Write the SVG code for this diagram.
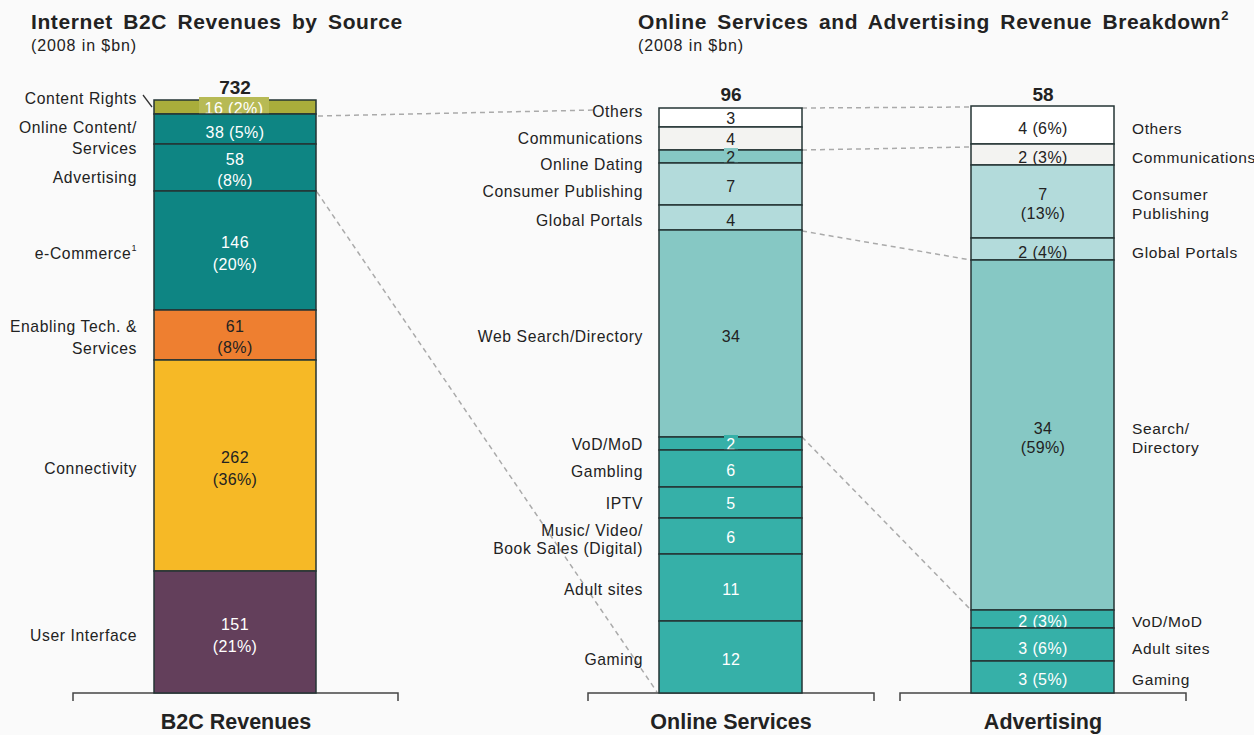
<svg xmlns="http://www.w3.org/2000/svg" width="1254" height="735" viewBox="0 0 1254 735">
<style>
text{font-family:"Liberation Sans",Arial,sans-serif;fill:#222;dominant-baseline:central}
.t{font-size:21px;font-weight:bold;letter-spacing:0.6px;word-spacing:4px}
.s{font-size:16px;letter-spacing:0.9px}
.l{font-size:15.7px;letter-spacing:0.6px;text-anchor:end}
.r{font-size:15.5px;letter-spacing:0.6px;text-anchor:start}
.v{font-size:16px;letter-spacing:0.4px;text-anchor:middle}
.w{fill:#fff}
.tot{font-size:19px;font-weight:bold;text-anchor:middle}
.ax{font-size:21.5px;font-weight:bold;text-anchor:middle}
.seg{stroke:#253535;stroke-width:1.5}
.axis{fill:none;stroke:#444;stroke-width:1.5}
.dash{fill:none;stroke:#aaa;stroke-width:1.5;stroke-dasharray:5 4}
</style>
<rect x="0" y="0" width="1254" height="735" fill="#fafafa"/>

<g id="titles">
<text class="t" x="31" y="21">Internet B2C Revenues by Source</text>
<text class="s" x="31" y="45">(2008 in $bn)</text>
<text class="t" x="638" y="21">Online Services and Advertising Revenue Breakdown<tspan font-size="13" dy="-6">2</tspan></text>
<text class="s" x="638" y="45">(2008 in $bn)</text>
</g>

<g id="connectors">
<line class="dash" x1="318" y1="116" x2="596" y2="110"/>
<line class="dash" x1="317" y1="192" x2="657" y2="692"/>
<line class="dash" x1="802" y1="108" x2="971" y2="107"/>
<line class="dash" x1="802" y1="150" x2="971" y2="147"/>
<line class="dash" x1="802" y1="231" x2="971" y2="260"/>
<line class="dash" x1="802" y1="437" x2="971" y2="610"/>
<line x1="143" y1="95" x2="152" y2="107" stroke="#333" stroke-width="1.3"/>
</g>

<g id="axes">
<path class="axis" d="M73,701 V693 H398 V701"/>
<path class="axis" d="M588,701 V693 H874 V701"/>
<path class="axis" d="M900,701 V693 H1186 V701"/>
<text class="ax" x="236" y="722">B2C Revenues</text>
<text class="ax" x="731" y="722">Online Services</text>
<text class="ax" x="1043" y="722">Advertising</text>
</g>

<g id="bar-b2c">
<text class="tot" x="235" y="87">732</text>
<g id="b2c-content-rights">
<rect class="seg" x="154" y="100" width="162" height="14" fill="#a9ad3b"/>
<rect x="199" y="97" width="70" height="21" fill="#b7ba55"/>
<text class="v w" x="234" y="108">16 (2%)</text>
<text class="l" x="137" y="98">Content Rights</text>
</g>
<g id="b2c-online-content">
<rect class="seg" x="154" y="114" width="162" height="30" fill="#0e8583"/>
<text class="v w" x="235" y="132">38 (5%)</text>
<text class="l" x="137" y="127">Online Content/</text>
<text class="l" x="137" y="148">Services</text>
</g>
<g id="b2c-advertising">
<rect class="seg" x="154" y="144" width="162" height="47" fill="#0e8583"/>
<text class="v w" x="235" y="159">58</text>
<text class="v w" x="235" y="180">(8%)</text>
<text class="l" x="137" y="177">Advertising</text>
</g>
<g id="b2c-ecommerce">
<rect class="seg" x="154" y="191" width="162" height="119" fill="#0e8583"/>
<text class="v w" x="235" y="242">146</text>
<text class="v w" x="235" y="264">(20%)</text>
<text class="l" x="137" y="253">e-Commerce<tspan font-size="9" dy="-5">1</tspan></text>
</g>
<g id="b2c-enabling">
<rect class="seg" x="154" y="310" width="162" height="50" fill="#ee7f30"/>
<text class="v" x="235" y="326">61</text>
<text class="v" x="235" y="347">(8%)</text>
<text class="l" x="137" y="326">Enabling Tech. &amp;</text>
<text class="l" x="137" y="348">Services</text>
</g>
<g id="b2c-connectivity">
<rect class="seg" x="154" y="360" width="162" height="211" fill="#f6b926"/>
<text class="v" x="235" y="457">262</text>
<text class="v" x="235" y="479">(36%)</text>
<text class="l" x="137" y="468">Connectivity</text>
</g>
<g id="b2c-user-interface">
<rect class="seg" x="154" y="571" width="162" height="122" fill="#633f5b"/>
<text class="v w" x="235" y="624">151</text>
<text class="v w" x="235" y="646">(21%)</text>
<text class="l" x="137" y="635">User Interface</text>
</g>
</g>

<g id="bar-online">
<text class="tot" x="731" y="94">96</text>
<g id="os-others">
<rect class="seg" x="659" y="108" width="143" height="19" fill="#ffffff"/>
<text class="v" x="731" y="118">3</text>
<text class="l" x="643" y="111">Others</text>
</g>
<g id="os-communications">
<rect class="seg" x="659" y="127" width="143" height="23" fill="#f3f3f1"/>
<text class="v" x="731" y="139">4</text>
<text class="l" x="643" y="138">Communications</text>
</g>
<g id="os-dating">
<rect class="seg" x="659" y="150" width="143" height="13" fill="#86c8c4"/>
<rect x="724" y="148" width="14" height="18" fill="#86c8c4"/>
<text class="v" x="731" y="157">2</text>
<text class="l" x="643" y="164">Online Dating</text>
</g>
<g id="os-publishing">
<rect class="seg" x="659" y="163" width="143" height="42" fill="#b3dbdb"/>
<text class="v" x="731" y="186">7</text>
<text class="l" x="643" y="191">Consumer Publishing</text>
</g>
<g id="os-portals">
<rect class="seg" x="659" y="205" width="143" height="25" fill="#b3dbdb"/>
<text class="v" x="731" y="220">4</text>
<text class="l" x="643" y="220">Global Portals</text>
</g>
<g id="os-search">
<rect class="seg" x="659" y="230" width="143" height="207" fill="#86c8c4"/>
<text class="v" x="731" y="336">34</text>
<text class="l" x="643" y="336">Web Search/Directory</text>
</g>
<g id="os-vod">
<rect class="seg" x="659" y="437" width="143" height="13" fill="#36b0a8"/>
<rect x="724" y="435" width="14" height="18" fill="#36b0a8"/>
<text class="v w" x="731" y="444">2</text>
<text class="l" x="643" y="444">VoD/MoD</text>
</g>
<g id="os-gambling">
<rect class="seg" x="659" y="450" width="143" height="37" fill="#36b0a8"/>
<text class="v w" x="731" y="470">6</text>
<text class="l" x="643" y="471">Gambling</text>
</g>
<g id="os-iptv">
<rect class="seg" x="659" y="487" width="143" height="31" fill="#36b0a8"/>
<text class="v w" x="731" y="503">5</text>
<text class="l" x="643" y="503">IPTV</text>
</g>
<g id="os-music">
<rect class="seg" x="659" y="518" width="143" height="36" fill="#36b0a8"/>
<text class="v w" x="731" y="537">6</text>
<text class="l" x="643" y="530">Music/ Video/</text>
<text class="l" x="643" y="548">Book Sales (Digital)</text>
</g>
<g id="os-adult">
<rect class="seg" x="659" y="554" width="143" height="67" fill="#36b0a8"/>
<text class="v w" x="731" y="589">11</text>
<text class="l" x="643" y="589">Adult sites</text>
</g>
<g id="os-gaming">
<rect class="seg" x="659" y="621" width="143" height="72" fill="#36b0a8"/>
<text class="v w" x="731" y="659">12</text>
<text class="l" x="643" y="659">Gaming</text>
</g>
</g>

<g id="bar-advertising">
<text class="tot" x="1043" y="94">58</text>
<g id="ad-others">
<rect class="seg" x="971" y="106" width="143" height="38" fill="#ffffff"/>
<text class="v" x="1043" y="128">4 (6%)</text>
<text class="r" x="1132" y="128">Others</text>
</g>
<g id="ad-communications">
<rect class="seg" x="971" y="144" width="143" height="21" fill="#f3f3f1"/>
<text class="v" x="1043" y="157">2 (3%)</text>
<text class="r" x="1132" y="157">Communications</text>
</g>
<g id="ad-publishing">
<rect class="seg" x="971" y="165" width="143" height="73" fill="#b3dbdb"/>
<text class="v" x="1043" y="194">7</text>
<text class="v" x="1043" y="213">(13%)</text>
<text class="r" x="1132" y="194">Consumer</text>
<text class="r" x="1132" y="213">Publishing</text>
</g>
<g id="ad-portals">
<rect class="seg" x="971" y="238" width="143" height="22" fill="#b3dbdb"/>
<text class="v" x="1043" y="252">2 (4%)</text>
<text class="r" x="1132" y="252">Global Portals</text>
</g>
<g id="ad-search">
<rect class="seg" x="971" y="260" width="143" height="350" fill="#86c8c4"/>
<text class="v" x="1043" y="428">34</text>
<text class="v" x="1043" y="447">(59%)</text>
<text class="r" x="1132" y="428">Search/</text>
<text class="r" x="1132" y="447">Directory</text>
</g>
<g id="ad-vod">
<rect class="seg" x="971" y="610" width="143" height="18" fill="#36b0a8"/>
<text class="v w" x="1043" y="621">2 (3%)</text>
<text class="r" x="1132" y="621">VoD/MoD</text>
</g>
<g id="ad-adult">
<rect class="seg" x="971" y="628" width="143" height="33" fill="#36b0a8"/>
<text class="v w" x="1043" y="648">3 (6%)</text>
<text class="r" x="1132" y="648">Adult sites</text>
</g>
<g id="ad-gaming">
<rect class="seg" x="971" y="661" width="143" height="32" fill="#36b0a8"/>
<text class="v w" x="1043" y="679">3 (5%)</text>
<text class="r" x="1132" y="679">Gaming</text>
</g>
</g>
</svg>
